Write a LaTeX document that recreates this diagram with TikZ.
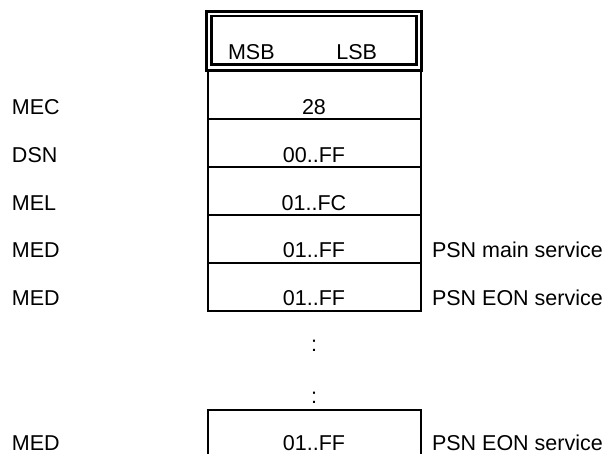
\documentclass[tikz,border=0pt]{standalone}
\usepackage{fontspec}
\setmainfont{Liberation Sans}
\begin{document}
\begin{tikzpicture}[x=1pt,y=-1pt,
  every node/.style={inner sep=0pt,outer sep=0pt,font=\fontsize{21.5}{24}\selectfont},
  hdrline/.style={line width=2.7pt},
  cellline/.style={line width=2pt},
  lbl/.style={anchor=base west},
  val/.style={anchor=base},
  rlbl/.style={anchor=base west}]
\useasboundingbox (0,0) rectangle (608,454);
% header double box
\draw[hdrline] (206.5,11.5) rectangle (421.5,70.5);
\draw[hdrline] (211.5,16) rectangle (416.5,64.5);
\node[anchor=base west] (msb) at (228,60) {MSB};
\node[anchor=base east] (lsb) at (377,60) {LSB};
% body box
\draw[cellline] (208,70.5) -- (208,311) -- (420.5,311) -- (420.5,70.5);
\foreach \yy in {119,167,215,263} \draw[cellline] (208,\yy) -- (420.5,\yy);
% last box (open at bottom)
\draw[cellline] (208,460) -- (208,410) -- (420.5,410) -- (420.5,460);
% left labels
\node[lbl] (l1) at (12,115) {MEC};
\node[lbl] (l2) at (12,163) {DSN};
\node[lbl] (l3) at (12,211) {MEL};
\node[lbl] (l4) at (12,258) {MED};
\node[lbl] (l5) at (12,306) {MED};
\node[lbl] (l6) at (12,450) {MED};
% values
\node[val] (v1) at (314,115) {28};
\node[val] (v2) at (314,163) {00..FF};
\node[val] (v3) at (314,211) {01..FC};
\node[val] (v4) at (314,258) {01..FF};
\node[val] (v5) at (314,306) {01..FF};
\node[val] (c1) at (314,352) {:};
\node[val] (c2) at (314,403) {:};
\node[val] (v6) at (314,450) {01..FF};
% right labels
\node[rlbl] (r4) at (432,258) {PSN main service};
\node[rlbl] (r5) at (432,306) {PSN EON service};
\node[rlbl] (r6) at (432,450) {PSN EON service};
\end{tikzpicture}
\end{document}
